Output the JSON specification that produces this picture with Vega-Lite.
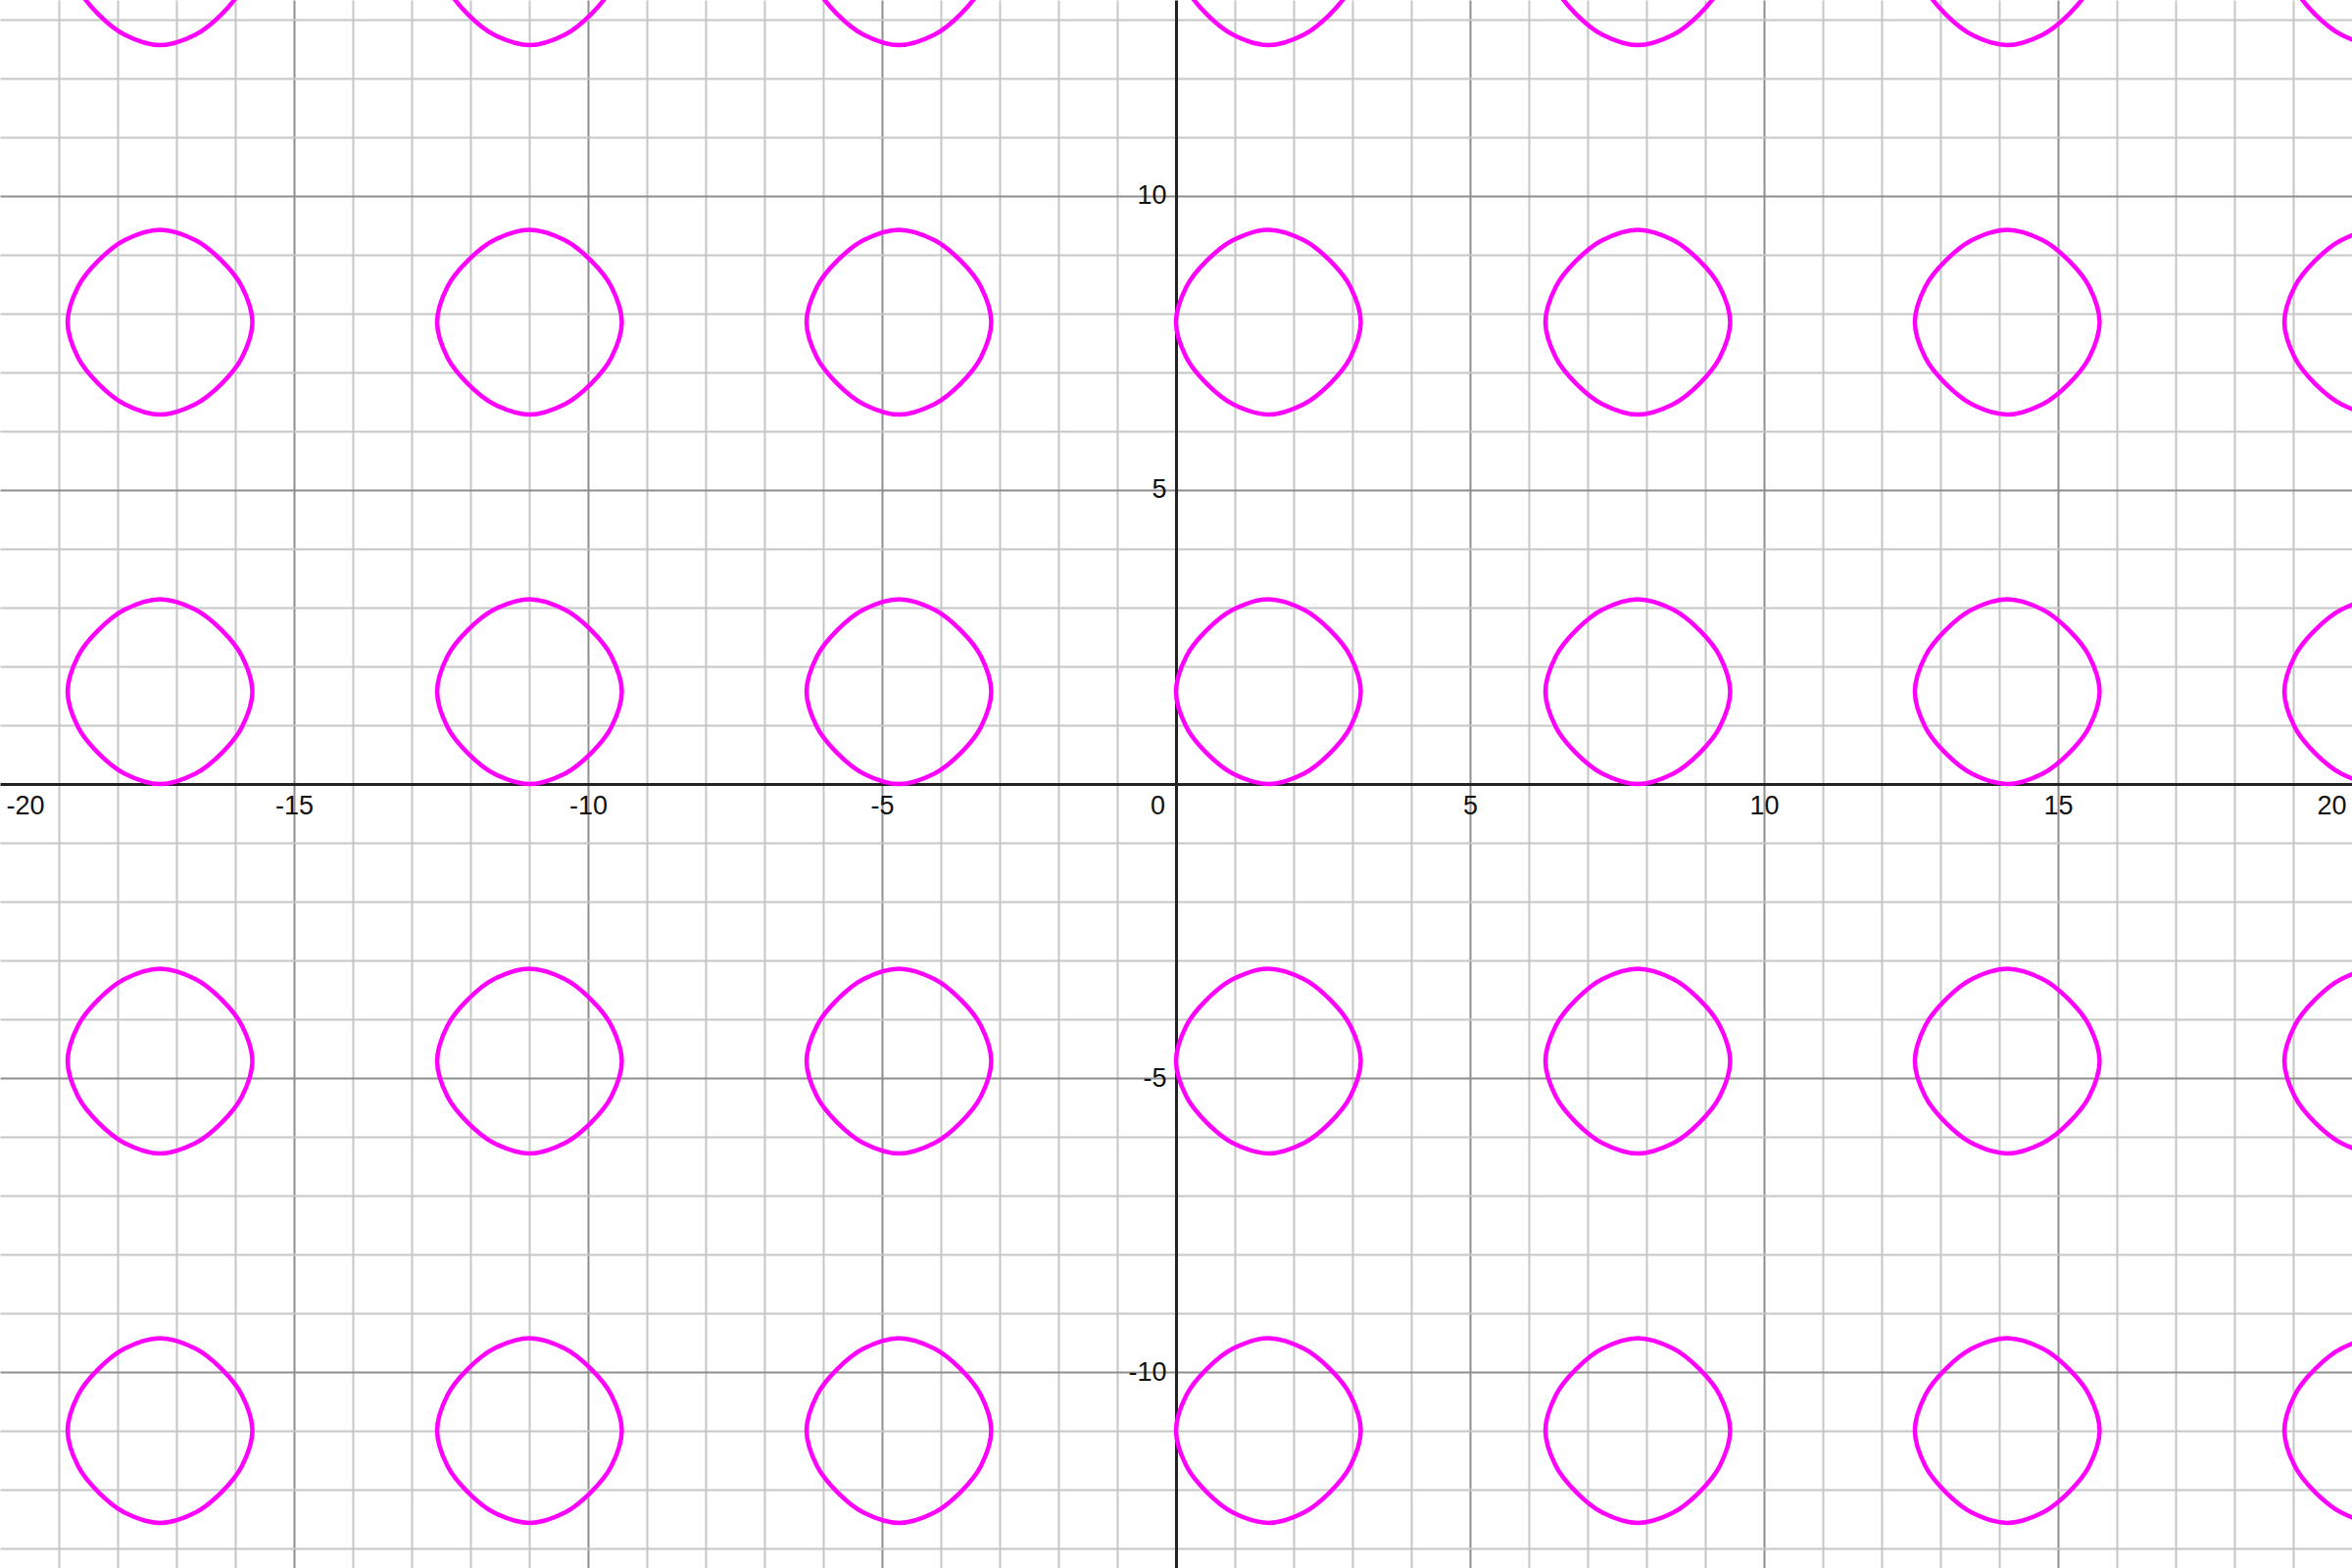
{
"$schema": "https://vega.github.io/schema/vega-lite/v6.json",
"width": 2400, "height": 1600, "autosize": "none", "padding": 0, "background": "white",
"config": {"view": {"stroke": null}},
"data": {"values": [
{"g":0,"i":0,"x":-18.85,"y":14.137},{"g":0,"i":1,"x":-18.674,"y":14.737},{"g":0,"i":2,"x":-18.326,"y":15.184},{"g":0,"i":3,"x":-17.879,"y":15.532},{"g":0,"i":4,"x":-17.279,"y":15.708},{"g":0,"i":5,"x":-16.679,"y":15.532},{"g":0,"i":6,"x":-16.232,"y":15.184},{"g":0,"i":7,"x":-15.884,"y":14.737},{"g":0,"i":8,"x":-15.708,"y":14.137},{"g":0,"i":9,"x":-15.884,"y":13.537},{"g":0,"i":10,"x":-16.232,"y":13.09},{"g":0,"i":11,"x":-16.679,"y":12.742},{"g":0,"i":12,"x":-17.279,"y":12.566},{"g":0,"i":13,"x":-17.879,"y":12.742},{"g":0,"i":14,"x":-18.326,"y":13.09},{"g":0,"i":15,"x":-18.674,"y":13.537},
{"g":1,"i":0,"x":-12.566,"y":14.137},{"g":1,"i":1,"x":-12.391,"y":14.737},{"g":1,"i":2,"x":-12.043,"y":15.184},{"g":1,"i":3,"x":-11.596,"y":15.532},{"g":1,"i":4,"x":-10.996,"y":15.708},{"g":1,"i":5,"x":-10.396,"y":15.532},{"g":1,"i":6,"x":-9.949,"y":15.184},{"g":1,"i":7,"x":-9.601,"y":14.737},{"g":1,"i":8,"x":-9.425,"y":14.137},{"g":1,"i":9,"x":-9.601,"y":13.537},{"g":1,"i":10,"x":-9.949,"y":13.09},{"g":1,"i":11,"x":-10.396,"y":12.742},{"g":1,"i":12,"x":-10.996,"y":12.566},{"g":1,"i":13,"x":-11.596,"y":12.742},{"g":1,"i":14,"x":-12.043,"y":13.09},{"g":1,"i":15,"x":-12.391,"y":13.537},
{"g":2,"i":0,"x":-6.283,"y":14.137},{"g":2,"i":1,"x":-6.107,"y":14.737},{"g":2,"i":2,"x":-5.759,"y":15.184},{"g":2,"i":3,"x":-5.312,"y":15.532},{"g":2,"i":4,"x":-4.712,"y":15.708},{"g":2,"i":5,"x":-4.112,"y":15.532},{"g":2,"i":6,"x":-3.665,"y":15.184},{"g":2,"i":7,"x":-3.317,"y":14.737},{"g":2,"i":8,"x":-3.142,"y":14.137},{"g":2,"i":9,"x":-3.317,"y":13.537},{"g":2,"i":10,"x":-3.665,"y":13.09},{"g":2,"i":11,"x":-4.112,"y":12.742},{"g":2,"i":12,"x":-4.712,"y":12.566},{"g":2,"i":13,"x":-5.312,"y":12.742},{"g":2,"i":14,"x":-5.759,"y":13.09},{"g":2,"i":15,"x":-6.107,"y":13.537},
{"g":3,"i":0,"x":0,"y":14.137},{"g":3,"i":1,"x":0.176,"y":14.737},{"g":3,"i":2,"x":0.524,"y":15.184},{"g":3,"i":3,"x":0.971,"y":15.532},{"g":3,"i":4,"x":1.571,"y":15.708},{"g":3,"i":5,"x":2.171,"y":15.532},{"g":3,"i":6,"x":2.618,"y":15.184},{"g":3,"i":7,"x":2.966,"y":14.737},{"g":3,"i":8,"x":3.142,"y":14.137},{"g":3,"i":9,"x":2.966,"y":13.537},{"g":3,"i":10,"x":2.618,"y":13.09},{"g":3,"i":11,"x":2.171,"y":12.742},{"g":3,"i":12,"x":1.571,"y":12.566},{"g":3,"i":13,"x":0.971,"y":12.742},{"g":3,"i":14,"x":0.524,"y":13.09},{"g":3,"i":15,"x":0.176,"y":13.537},
{"g":4,"i":0,"x":6.283,"y":14.137},{"g":4,"i":1,"x":6.459,"y":14.737},{"g":4,"i":2,"x":6.807,"y":15.184},{"g":4,"i":3,"x":7.254,"y":15.532},{"g":4,"i":4,"x":7.854,"y":15.708},{"g":4,"i":5,"x":8.454,"y":15.532},{"g":4,"i":6,"x":8.901,"y":15.184},{"g":4,"i":7,"x":9.249,"y":14.737},{"g":4,"i":8,"x":9.425,"y":14.137},{"g":4,"i":9,"x":9.249,"y":13.537},{"g":4,"i":10,"x":8.901,"y":13.09},{"g":4,"i":11,"x":8.454,"y":12.742},{"g":4,"i":12,"x":7.854,"y":12.566},{"g":4,"i":13,"x":7.254,"y":12.742},{"g":4,"i":14,"x":6.807,"y":13.09},{"g":4,"i":15,"x":6.459,"y":13.537},
{"g":5,"i":0,"x":12.566,"y":14.137},{"g":5,"i":1,"x":12.742,"y":14.737},{"g":5,"i":2,"x":13.09,"y":15.184},{"g":5,"i":3,"x":13.537,"y":15.532},{"g":5,"i":4,"x":14.137,"y":15.708},{"g":5,"i":5,"x":14.737,"y":15.532},{"g":5,"i":6,"x":15.184,"y":15.184},{"g":5,"i":7,"x":15.532,"y":14.737},{"g":5,"i":8,"x":15.708,"y":14.137},{"g":5,"i":9,"x":15.532,"y":13.537},{"g":5,"i":10,"x":15.184,"y":13.09},{"g":5,"i":11,"x":14.737,"y":12.742},{"g":5,"i":12,"x":14.137,"y":12.566},{"g":5,"i":13,"x":13.537,"y":12.742},{"g":5,"i":14,"x":13.09,"y":13.09},{"g":5,"i":15,"x":12.742,"y":13.537},
{"g":6,"i":0,"x":18.85,"y":14.137},{"g":6,"i":1,"x":19.025,"y":14.737},{"g":6,"i":2,"x":19.373,"y":15.184},{"g":6,"i":3,"x":19.82,"y":15.532},{"g":6,"i":4,"x":20.42,"y":15.708},{"g":6,"i":5,"x":21.02,"y":15.532},{"g":6,"i":6,"x":21.467,"y":15.184},{"g":6,"i":7,"x":21.815,"y":14.737},{"g":6,"i":8,"x":21.991,"y":14.137},{"g":6,"i":9,"x":21.815,"y":13.537},{"g":6,"i":10,"x":21.467,"y":13.09},{"g":6,"i":11,"x":21.02,"y":12.742},{"g":6,"i":12,"x":20.42,"y":12.566},{"g":6,"i":13,"x":19.82,"y":12.742},{"g":6,"i":14,"x":19.373,"y":13.09},{"g":6,"i":15,"x":19.025,"y":13.537},

{"g":7,"i":0,"x":-18.85,"y":7.854},{"g":7,"i":1,"x":-18.674,"y":8.454},{"g":7,"i":2,"x":-18.326,"y":8.901},{"g":7,"i":3,"x":-17.879,"y":9.249},{"g":7,"i":4,"x":-17.279,"y":9.425},{"g":7,"i":5,"x":-16.679,"y":9.249},{"g":7,"i":6,"x":-16.232,"y":8.901},{"g":7,"i":7,"x":-15.884,"y":8.454},{"g":7,"i":8,"x":-15.708,"y":7.854},{"g":7,"i":9,"x":-15.884,"y":7.254},{"g":7,"i":10,"x":-16.232,"y":6.807},{"g":7,"i":11,"x":-16.679,"y":6.459},{"g":7,"i":12,"x":-17.279,"y":6.283},{"g":7,"i":13,"x":-17.879,"y":6.459},{"g":7,"i":14,"x":-18.326,"y":6.807},{"g":7,"i":15,"x":-18.674,"y":7.254},
{"g":8,"i":0,"x":-12.566,"y":7.854},{"g":8,"i":1,"x":-12.391,"y":8.454},{"g":8,"i":2,"x":-12.043,"y":8.901},{"g":8,"i":3,"x":-11.596,"y":9.249},{"g":8,"i":4,"x":-10.996,"y":9.425},{"g":8,"i":5,"x":-10.396,"y":9.249},{"g":8,"i":6,"x":-9.949,"y":8.901},{"g":8,"i":7,"x":-9.601,"y":8.454},{"g":8,"i":8,"x":-9.425,"y":7.854},{"g":8,"i":9,"x":-9.601,"y":7.254},{"g":8,"i":10,"x":-9.949,"y":6.807},{"g":8,"i":11,"x":-10.396,"y":6.459},{"g":8,"i":12,"x":-10.996,"y":6.283},{"g":8,"i":13,"x":-11.596,"y":6.459},{"g":8,"i":14,"x":-12.043,"y":6.807},{"g":8,"i":15,"x":-12.391,"y":7.254},
{"g":9,"i":0,"x":-6.283,"y":7.854},{"g":9,"i":1,"x":-6.107,"y":8.454},{"g":9,"i":2,"x":-5.759,"y":8.901},{"g":9,"i":3,"x":-5.312,"y":9.249},{"g":9,"i":4,"x":-4.712,"y":9.425},{"g":9,"i":5,"x":-4.112,"y":9.249},{"g":9,"i":6,"x":-3.665,"y":8.901},{"g":9,"i":7,"x":-3.317,"y":8.454},{"g":9,"i":8,"x":-3.142,"y":7.854},{"g":9,"i":9,"x":-3.317,"y":7.254},{"g":9,"i":10,"x":-3.665,"y":6.807},{"g":9,"i":11,"x":-4.112,"y":6.459},{"g":9,"i":12,"x":-4.712,"y":6.283},{"g":9,"i":13,"x":-5.312,"y":6.459},{"g":9,"i":14,"x":-5.759,"y":6.807},{"g":9,"i":15,"x":-6.107,"y":7.254},
{"g":10,"i":0,"x":0,"y":7.854},{"g":10,"i":1,"x":0.176,"y":8.454},{"g":10,"i":2,"x":0.524,"y":8.901},{"g":10,"i":3,"x":0.971,"y":9.249},{"g":10,"i":4,"x":1.571,"y":9.425},{"g":10,"i":5,"x":2.171,"y":9.249},{"g":10,"i":6,"x":2.618,"y":8.901},{"g":10,"i":7,"x":2.966,"y":8.454},{"g":10,"i":8,"x":3.142,"y":7.854},{"g":10,"i":9,"x":2.966,"y":7.254},{"g":10,"i":10,"x":2.618,"y":6.807},{"g":10,"i":11,"x":2.171,"y":6.459},{"g":10,"i":12,"x":1.571,"y":6.283},{"g":10,"i":13,"x":0.971,"y":6.459},{"g":10,"i":14,"x":0.524,"y":6.807},{"g":10,"i":15,"x":0.176,"y":7.254},
{"g":11,"i":0,"x":6.283,"y":7.854},{"g":11,"i":1,"x":6.459,"y":8.454},{"g":11,"i":2,"x":6.807,"y":8.901},{"g":11,"i":3,"x":7.254,"y":9.249},{"g":11,"i":4,"x":7.854,"y":9.425},{"g":11,"i":5,"x":8.454,"y":9.249},{"g":11,"i":6,"x":8.901,"y":8.901},{"g":11,"i":7,"x":9.249,"y":8.454},{"g":11,"i":8,"x":9.425,"y":7.854},{"g":11,"i":9,"x":9.249,"y":7.254},{"g":11,"i":10,"x":8.901,"y":6.807},{"g":11,"i":11,"x":8.454,"y":6.459},{"g":11,"i":12,"x":7.854,"y":6.283},{"g":11,"i":13,"x":7.254,"y":6.459},{"g":11,"i":14,"x":6.807,"y":6.807},{"g":11,"i":15,"x":6.459,"y":7.254},
{"g":12,"i":0,"x":12.566,"y":7.854},{"g":12,"i":1,"x":12.742,"y":8.454},{"g":12,"i":2,"x":13.09,"y":8.901},{"g":12,"i":3,"x":13.537,"y":9.249},{"g":12,"i":4,"x":14.137,"y":9.425},{"g":12,"i":5,"x":14.737,"y":9.249},{"g":12,"i":6,"x":15.184,"y":8.901},{"g":12,"i":7,"x":15.532,"y":8.454},{"g":12,"i":8,"x":15.708,"y":7.854},{"g":12,"i":9,"x":15.532,"y":7.254},{"g":12,"i":10,"x":15.184,"y":6.807},{"g":12,"i":11,"x":14.737,"y":6.459},{"g":12,"i":12,"x":14.137,"y":6.283},{"g":12,"i":13,"x":13.537,"y":6.459},{"g":12,"i":14,"x":13.09,"y":6.807},{"g":12,"i":15,"x":12.742,"y":7.254},
{"g":13,"i":0,"x":18.85,"y":7.854},{"g":13,"i":1,"x":19.025,"y":8.454},{"g":13,"i":2,"x":19.373,"y":8.901},{"g":13,"i":3,"x":19.82,"y":9.249},{"g":13,"i":4,"x":20.42,"y":9.425},{"g":13,"i":5,"x":21.02,"y":9.249},{"g":13,"i":6,"x":21.467,"y":8.901},{"g":13,"i":7,"x":21.815,"y":8.454},{"g":13,"i":8,"x":21.991,"y":7.854},{"g":13,"i":9,"x":21.815,"y":7.254},{"g":13,"i":10,"x":21.467,"y":6.807},{"g":13,"i":11,"x":21.02,"y":6.459},{"g":13,"i":12,"x":20.42,"y":6.283},{"g":13,"i":13,"x":19.82,"y":6.459},{"g":13,"i":14,"x":19.373,"y":6.807},{"g":13,"i":15,"x":19.025,"y":7.254},

{"g":14,"i":0,"x":-18.85,"y":1.571},{"g":14,"i":1,"x":-18.674,"y":2.171},{"g":14,"i":2,"x":-18.326,"y":2.618},{"g":14,"i":3,"x":-17.879,"y":2.966},{"g":14,"i":4,"x":-17.279,"y":3.142},{"g":14,"i":5,"x":-16.679,"y":2.966},{"g":14,"i":6,"x":-16.232,"y":2.618},{"g":14,"i":7,"x":-15.884,"y":2.171},{"g":14,"i":8,"x":-15.708,"y":1.571},{"g":14,"i":9,"x":-15.884,"y":0.971},{"g":14,"i":10,"x":-16.232,"y":0.524},{"g":14,"i":11,"x":-16.679,"y":0.176},{"g":14,"i":12,"x":-17.279,"y":0},{"g":14,"i":13,"x":-17.879,"y":0.176},{"g":14,"i":14,"x":-18.326,"y":0.524},{"g":14,"i":15,"x":-18.674,"y":0.971},
{"g":15,"i":0,"x":-12.566,"y":1.571},{"g":15,"i":1,"x":-12.391,"y":2.171},{"g":15,"i":2,"x":-12.043,"y":2.618},{"g":15,"i":3,"x":-11.596,"y":2.966},{"g":15,"i":4,"x":-10.996,"y":3.142},{"g":15,"i":5,"x":-10.396,"y":2.966},{"g":15,"i":6,"x":-9.949,"y":2.618},{"g":15,"i":7,"x":-9.601,"y":2.171},{"g":15,"i":8,"x":-9.425,"y":1.571},{"g":15,"i":9,"x":-9.601,"y":0.971},{"g":15,"i":10,"x":-9.949,"y":0.524},{"g":15,"i":11,"x":-10.396,"y":0.176},{"g":15,"i":12,"x":-10.996,"y":0},{"g":15,"i":13,"x":-11.596,"y":0.176},{"g":15,"i":14,"x":-12.043,"y":0.524},{"g":15,"i":15,"x":-12.391,"y":0.971},
{"g":16,"i":0,"x":-6.283,"y":1.571},{"g":16,"i":1,"x":-6.107,"y":2.171},{"g":16,"i":2,"x":-5.759,"y":2.618},{"g":16,"i":3,"x":-5.312,"y":2.966},{"g":16,"i":4,"x":-4.712,"y":3.142},{"g":16,"i":5,"x":-4.112,"y":2.966},{"g":16,"i":6,"x":-3.665,"y":2.618},{"g":16,"i":7,"x":-3.317,"y":2.171},{"g":16,"i":8,"x":-3.142,"y":1.571},{"g":16,"i":9,"x":-3.317,"y":0.971},{"g":16,"i":10,"x":-3.665,"y":0.524},{"g":16,"i":11,"x":-4.112,"y":0.176},{"g":16,"i":12,"x":-4.712,"y":0},{"g":16,"i":13,"x":-5.312,"y":0.176},{"g":16,"i":14,"x":-5.759,"y":0.524},{"g":16,"i":15,"x":-6.107,"y":0.971},
{"g":17,"i":0,"x":0,"y":1.571},{"g":17,"i":1,"x":0.176,"y":2.171},{"g":17,"i":2,"x":0.524,"y":2.618},{"g":17,"i":3,"x":0.971,"y":2.966},{"g":17,"i":4,"x":1.571,"y":3.142},{"g":17,"i":5,"x":2.171,"y":2.966},{"g":17,"i":6,"x":2.618,"y":2.618},{"g":17,"i":7,"x":2.966,"y":2.171},{"g":17,"i":8,"x":3.142,"y":1.571},{"g":17,"i":9,"x":2.966,"y":0.971},{"g":17,"i":10,"x":2.618,"y":0.524},{"g":17,"i":11,"x":2.171,"y":0.176},{"g":17,"i":12,"x":1.571,"y":0},{"g":17,"i":13,"x":0.971,"y":0.176},{"g":17,"i":14,"x":0.524,"y":0.524},{"g":17,"i":15,"x":0.176,"y":0.971},
{"g":18,"i":0,"x":6.283,"y":1.571},{"g":18,"i":1,"x":6.459,"y":2.171},{"g":18,"i":2,"x":6.807,"y":2.618},{"g":18,"i":3,"x":7.254,"y":2.966},{"g":18,"i":4,"x":7.854,"y":3.142},{"g":18,"i":5,"x":8.454,"y":2.966},{"g":18,"i":6,"x":8.901,"y":2.618},{"g":18,"i":7,"x":9.249,"y":2.171},{"g":18,"i":8,"x":9.425,"y":1.571},{"g":18,"i":9,"x":9.249,"y":0.971},{"g":18,"i":10,"x":8.901,"y":0.524},{"g":18,"i":11,"x":8.454,"y":0.176},{"g":18,"i":12,"x":7.854,"y":0},{"g":18,"i":13,"x":7.254,"y":0.176},{"g":18,"i":14,"x":6.807,"y":0.524},{"g":18,"i":15,"x":6.459,"y":0.971},
{"g":19,"i":0,"x":12.566,"y":1.571},{"g":19,"i":1,"x":12.742,"y":2.171},{"g":19,"i":2,"x":13.09,"y":2.618},{"g":19,"i":3,"x":13.537,"y":2.966},{"g":19,"i":4,"x":14.137,"y":3.142},{"g":19,"i":5,"x":14.737,"y":2.966},{"g":19,"i":6,"x":15.184,"y":2.618},{"g":19,"i":7,"x":15.532,"y":2.171},{"g":19,"i":8,"x":15.708,"y":1.571},{"g":19,"i":9,"x":15.532,"y":0.971},{"g":19,"i":10,"x":15.184,"y":0.524},{"g":19,"i":11,"x":14.737,"y":0.176},{"g":19,"i":12,"x":14.137,"y":0},{"g":19,"i":13,"x":13.537,"y":0.176},{"g":19,"i":14,"x":13.09,"y":0.524},{"g":19,"i":15,"x":12.742,"y":0.971},
{"g":20,"i":0,"x":18.85,"y":1.571},{"g":20,"i":1,"x":19.025,"y":2.171},{"g":20,"i":2,"x":19.373,"y":2.618},{"g":20,"i":3,"x":19.82,"y":2.966},{"g":20,"i":4,"x":20.42,"y":3.142},{"g":20,"i":5,"x":21.02,"y":2.966},{"g":20,"i":6,"x":21.467,"y":2.618},{"g":20,"i":7,"x":21.815,"y":2.171},{"g":20,"i":8,"x":21.991,"y":1.571},{"g":20,"i":9,"x":21.815,"y":0.971},{"g":20,"i":10,"x":21.467,"y":0.524},{"g":20,"i":11,"x":21.02,"y":0.176},{"g":20,"i":12,"x":20.42,"y":0},{"g":20,"i":13,"x":19.82,"y":0.176},{"g":20,"i":14,"x":19.373,"y":0.524},{"g":20,"i":15,"x":19.025,"y":0.971},

{"g":21,"i":0,"x":-18.85,"y":-4.712},{"g":21,"i":1,"x":-18.674,"y":-4.112},{"g":21,"i":2,"x":-18.326,"y":-3.665},{"g":21,"i":3,"x":-17.879,"y":-3.317},{"g":21,"i":4,"x":-17.279,"y":-3.142},{"g":21,"i":5,"x":-16.679,"y":-3.317},{"g":21,"i":6,"x":-16.232,"y":-3.665},{"g":21,"i":7,"x":-15.884,"y":-4.112},{"g":21,"i":8,"x":-15.708,"y":-4.712},{"g":21,"i":9,"x":-15.884,"y":-5.312},{"g":21,"i":10,"x":-16.232,"y":-5.759},{"g":21,"i":11,"x":-16.679,"y":-6.107},{"g":21,"i":12,"x":-17.279,"y":-6.283},{"g":21,"i":13,"x":-17.879,"y":-6.107},{"g":21,"i":14,"x":-18.326,"y":-5.759},{"g":21,"i":15,"x":-18.674,"y":-5.312},
{"g":22,"i":0,"x":-12.566,"y":-4.712},{"g":22,"i":1,"x":-12.391,"y":-4.112},{"g":22,"i":2,"x":-12.043,"y":-3.665},{"g":22,"i":3,"x":-11.596,"y":-3.317},{"g":22,"i":4,"x":-10.996,"y":-3.142},{"g":22,"i":5,"x":-10.396,"y":-3.317},{"g":22,"i":6,"x":-9.949,"y":-3.665},{"g":22,"i":7,"x":-9.601,"y":-4.112},{"g":22,"i":8,"x":-9.425,"y":-4.712},{"g":22,"i":9,"x":-9.601,"y":-5.312},{"g":22,"i":10,"x":-9.949,"y":-5.759},{"g":22,"i":11,"x":-10.396,"y":-6.107},{"g":22,"i":12,"x":-10.996,"y":-6.283},{"g":22,"i":13,"x":-11.596,"y":-6.107},{"g":22,"i":14,"x":-12.043,"y":-5.759},{"g":22,"i":15,"x":-12.391,"y":-5.312},
{"g":23,"i":0,"x":-6.283,"y":-4.712},{"g":23,"i":1,"x":-6.107,"y":-4.112},{"g":23,"i":2,"x":-5.759,"y":-3.665},{"g":23,"i":3,"x":-5.312,"y":-3.317},{"g":23,"i":4,"x":-4.712,"y":-3.142},{"g":23,"i":5,"x":-4.112,"y":-3.317},{"g":23,"i":6,"x":-3.665,"y":-3.665},{"g":23,"i":7,"x":-3.317,"y":-4.112},{"g":23,"i":8,"x":-3.142,"y":-4.712},{"g":23,"i":9,"x":-3.317,"y":-5.312},{"g":23,"i":10,"x":-3.665,"y":-5.759},{"g":23,"i":11,"x":-4.112,"y":-6.107},{"g":23,"i":12,"x":-4.712,"y":-6.283},{"g":23,"i":13,"x":-5.312,"y":-6.107},{"g":23,"i":14,"x":-5.759,"y":-5.759},{"g":23,"i":15,"x":-6.107,"y":-5.312},
{"g":24,"i":0,"x":0,"y":-4.712},{"g":24,"i":1,"x":0.176,"y":-4.112},{"g":24,"i":2,"x":0.524,"y":-3.665},{"g":24,"i":3,"x":0.971,"y":-3.317},{"g":24,"i":4,"x":1.571,"y":-3.142},{"g":24,"i":5,"x":2.171,"y":-3.317},{"g":24,"i":6,"x":2.618,"y":-3.665},{"g":24,"i":7,"x":2.966,"y":-4.112},{"g":24,"i":8,"x":3.142,"y":-4.712},{"g":24,"i":9,"x":2.966,"y":-5.312},{"g":24,"i":10,"x":2.618,"y":-5.759},{"g":24,"i":11,"x":2.171,"y":-6.107},{"g":24,"i":12,"x":1.571,"y":-6.283},{"g":24,"i":13,"x":0.971,"y":-6.107},{"g":24,"i":14,"x":0.524,"y":-5.759},{"g":24,"i":15,"x":0.176,"y":-5.312},
{"g":25,"i":0,"x":6.283,"y":-4.712},{"g":25,"i":1,"x":6.459,"y":-4.112},{"g":25,"i":2,"x":6.807,"y":-3.665},{"g":25,"i":3,"x":7.254,"y":-3.317},{"g":25,"i":4,"x":7.854,"y":-3.142},{"g":25,"i":5,"x":8.454,"y":-3.317},{"g":25,"i":6,"x":8.901,"y":-3.665},{"g":25,"i":7,"x":9.249,"y":-4.112},{"g":25,"i":8,"x":9.425,"y":-4.712},{"g":25,"i":9,"x":9.249,"y":-5.312},{"g":25,"i":10,"x":8.901,"y":-5.759},{"g":25,"i":11,"x":8.454,"y":-6.107},{"g":25,"i":12,"x":7.854,"y":-6.283},{"g":25,"i":13,"x":7.254,"y":-6.107},{"g":25,"i":14,"x":6.807,"y":-5.759},{"g":25,"i":15,"x":6.459,"y":-5.312},
{"g":26,"i":0,"x":12.566,"y":-4.712},{"g":26,"i":1,"x":12.742,"y":-4.112},{"g":26,"i":2,"x":13.09,"y":-3.665},{"g":26,"i":3,"x":13.537,"y":-3.317},{"g":26,"i":4,"x":14.137,"y":-3.142},{"g":26,"i":5,"x":14.737,"y":-3.317},{"g":26,"i":6,"x":15.184,"y":-3.665},{"g":26,"i":7,"x":15.532,"y":-4.112},{"g":26,"i":8,"x":15.708,"y":-4.712},{"g":26,"i":9,"x":15.532,"y":-5.312},{"g":26,"i":10,"x":15.184,"y":-5.759},{"g":26,"i":11,"x":14.737,"y":-6.107},{"g":26,"i":12,"x":14.137,"y":-6.283},{"g":26,"i":13,"x":13.537,"y":-6.107},{"g":26,"i":14,"x":13.09,"y":-5.759},{"g":26,"i":15,"x":12.742,"y":-5.312},
{"g":27,"i":0,"x":18.85,"y":-4.712},{"g":27,"i":1,"x":19.025,"y":-4.112},{"g":27,"i":2,"x":19.373,"y":-3.665},{"g":27,"i":3,"x":19.82,"y":-3.317},{"g":27,"i":4,"x":20.42,"y":-3.142},{"g":27,"i":5,"x":21.02,"y":-3.317},{"g":27,"i":6,"x":21.467,"y":-3.665},{"g":27,"i":7,"x":21.815,"y":-4.112},{"g":27,"i":8,"x":21.991,"y":-4.712},{"g":27,"i":9,"x":21.815,"y":-5.312},{"g":27,"i":10,"x":21.467,"y":-5.759},{"g":27,"i":11,"x":21.02,"y":-6.107},{"g":27,"i":12,"x":20.42,"y":-6.283},{"g":27,"i":13,"x":19.82,"y":-6.107},{"g":27,"i":14,"x":19.373,"y":-5.759},{"g":27,"i":15,"x":19.025,"y":-5.312},

{"g":28,"i":0,"x":-18.85,"y":-10.996},{"g":28,"i":1,"x":-18.674,"y":-10.396},{"g":28,"i":2,"x":-18.326,"y":-9.949},{"g":28,"i":3,"x":-17.879,"y":-9.601},{"g":28,"i":4,"x":-17.279,"y":-9.425},{"g":28,"i":5,"x":-16.679,"y":-9.601},{"g":28,"i":6,"x":-16.232,"y":-9.949},{"g":28,"i":7,"x":-15.884,"y":-10.396},{"g":28,"i":8,"x":-15.708,"y":-10.996},{"g":28,"i":9,"x":-15.884,"y":-11.596},{"g":28,"i":10,"x":-16.232,"y":-12.043},{"g":28,"i":11,"x":-16.679,"y":-12.391},{"g":28,"i":12,"x":-17.279,"y":-12.566},{"g":28,"i":13,"x":-17.879,"y":-12.391},{"g":28,"i":14,"x":-18.326,"y":-12.043},{"g":28,"i":15,"x":-18.674,"y":-11.596},
{"g":29,"i":0,"x":-12.566,"y":-10.996},{"g":29,"i":1,"x":-12.391,"y":-10.396},{"g":29,"i":2,"x":-12.043,"y":-9.949},{"g":29,"i":3,"x":-11.596,"y":-9.601},{"g":29,"i":4,"x":-10.996,"y":-9.425},{"g":29,"i":5,"x":-10.396,"y":-9.601},{"g":29,"i":6,"x":-9.949,"y":-9.949},{"g":29,"i":7,"x":-9.601,"y":-10.396},{"g":29,"i":8,"x":-9.425,"y":-10.996},{"g":29,"i":9,"x":-9.601,"y":-11.596},{"g":29,"i":10,"x":-9.949,"y":-12.043},{"g":29,"i":11,"x":-10.396,"y":-12.391},{"g":29,"i":12,"x":-10.996,"y":-12.566},{"g":29,"i":13,"x":-11.596,"y":-12.391},{"g":29,"i":14,"x":-12.043,"y":-12.043},{"g":29,"i":15,"x":-12.391,"y":-11.596},
{"g":30,"i":0,"x":-6.283,"y":-10.996},{"g":30,"i":1,"x":-6.107,"y":-10.396},{"g":30,"i":2,"x":-5.759,"y":-9.949},{"g":30,"i":3,"x":-5.312,"y":-9.601},{"g":30,"i":4,"x":-4.712,"y":-9.425},{"g":30,"i":5,"x":-4.112,"y":-9.601},{"g":30,"i":6,"x":-3.665,"y":-9.949},{"g":30,"i":7,"x":-3.317,"y":-10.396},{"g":30,"i":8,"x":-3.142,"y":-10.996},{"g":30,"i":9,"x":-3.317,"y":-11.596},{"g":30,"i":10,"x":-3.665,"y":-12.043},{"g":30,"i":11,"x":-4.112,"y":-12.391},{"g":30,"i":12,"x":-4.712,"y":-12.566},{"g":30,"i":13,"x":-5.312,"y":-12.391},{"g":30,"i":14,"x":-5.759,"y":-12.043},{"g":30,"i":15,"x":-6.107,"y":-11.596},
{"g":31,"i":0,"x":0,"y":-10.996},{"g":31,"i":1,"x":0.176,"y":-10.396},{"g":31,"i":2,"x":0.524,"y":-9.949},{"g":31,"i":3,"x":0.971,"y":-9.601},{"g":31,"i":4,"x":1.571,"y":-9.425},{"g":31,"i":5,"x":2.171,"y":-9.601},{"g":31,"i":6,"x":2.618,"y":-9.949},{"g":31,"i":7,"x":2.966,"y":-10.396},{"g":31,"i":8,"x":3.142,"y":-10.996},{"g":31,"i":9,"x":2.966,"y":-11.596},{"g":31,"i":10,"x":2.618,"y":-12.043},{"g":31,"i":11,"x":2.171,"y":-12.391},{"g":31,"i":12,"x":1.571,"y":-12.566},{"g":31,"i":13,"x":0.971,"y":-12.391},{"g":31,"i":14,"x":0.524,"y":-12.043},{"g":31,"i":15,"x":0.176,"y":-11.596},
{"g":32,"i":0,"x":6.283,"y":-10.996},{"g":32,"i":1,"x":6.459,"y":-10.396},{"g":32,"i":2,"x":6.807,"y":-9.949},{"g":32,"i":3,"x":7.254,"y":-9.601},{"g":32,"i":4,"x":7.854,"y":-9.425},{"g":32,"i":5,"x":8.454,"y":-9.601},{"g":32,"i":6,"x":8.901,"y":-9.949},{"g":32,"i":7,"x":9.249,"y":-10.396},{"g":32,"i":8,"x":9.425,"y":-10.996},{"g":32,"i":9,"x":9.249,"y":-11.596},{"g":32,"i":10,"x":8.901,"y":-12.043},{"g":32,"i":11,"x":8.454,"y":-12.391},{"g":32,"i":12,"x":7.854,"y":-12.566},{"g":32,"i":13,"x":7.254,"y":-12.391},{"g":32,"i":14,"x":6.807,"y":-12.043},{"g":32,"i":15,"x":6.459,"y":-11.596},
{"g":33,"i":0,"x":12.566,"y":-10.996},{"g":33,"i":1,"x":12.742,"y":-10.396},{"g":33,"i":2,"x":13.09,"y":-9.949},{"g":33,"i":3,"x":13.537,"y":-9.601},{"g":33,"i":4,"x":14.137,"y":-9.425},{"g":33,"i":5,"x":14.737,"y":-9.601},{"g":33,"i":6,"x":15.184,"y":-9.949},{"g":33,"i":7,"x":15.532,"y":-10.396},{"g":33,"i":8,"x":15.708,"y":-10.996},{"g":33,"i":9,"x":15.532,"y":-11.596},{"g":33,"i":10,"x":15.184,"y":-12.043},{"g":33,"i":11,"x":14.737,"y":-12.391},{"g":33,"i":12,"x":14.137,"y":-12.566},{"g":33,"i":13,"x":13.537,"y":-12.391},{"g":33,"i":14,"x":13.09,"y":-12.043},{"g":33,"i":15,"x":12.742,"y":-11.596},
{"g":34,"i":0,"x":18.85,"y":-10.996},{"g":34,"i":1,"x":19.025,"y":-10.396},{"g":34,"i":2,"x":19.373,"y":-9.949},{"g":34,"i":3,"x":19.82,"y":-9.601},{"g":34,"i":4,"x":20.42,"y":-9.425},{"g":34,"i":5,"x":21.02,"y":-9.601},{"g":34,"i":6,"x":21.467,"y":-9.949},{"g":34,"i":7,"x":21.815,"y":-10.396},{"g":34,"i":8,"x":21.991,"y":-10.996},{"g":34,"i":9,"x":21.815,"y":-11.596},{"g":34,"i":10,"x":21.467,"y":-12.043},{"g":34,"i":11,"x":21.02,"y":-12.391},{"g":34,"i":12,"x":20.42,"y":-12.566},{"g":34,"i":13,"x":19.82,"y":-12.391},{"g":34,"i":14,"x":19.373,"y":-12.043},{"g":34,"i":15,"x":19.025,"y":-11.596}
]},
"layer": [
{
"mark": {"type": "line", "opacity": 0, "clip": true},
"encoding": {
"x": {"field": "x", "type": "quantitative", "scale": {"domain": [-20, 20], "nice": false, "zero": false},
 "axis": {"orient": "bottom", "values": [-19,-18,-17,-16,-14,-13,-12,-11,-9,-8,-7,-6,-4,-3,-2,-1,1,2,3,4,6,7,8,9,11,12,13,14,16,17,18,19], "grid": true, "gridColor": "#c6c6c6", "gridWidth": 2, "labels": false, "ticks": false, "domain": false, "title": null}},
"y": {"field": "y", "type": "quantitative", "scale": {"domain": [-13.3333, 13.3333], "nice": false, "zero": false},
 "axis": {"orient": "left", "values": [-13,-12,-11,-9,-8,-7,-6,-4,-3,-2,-1,1,2,3,4,6,7,8,9,11,12,13], "grid": true, "gridColor": "#c6c6c6", "gridWidth": 2, "labels": false, "ticks": false, "domain": false, "title": null}},
"detail": {"field": "g"},
"order": {"field": "i"}
}
},
{
"mark": {"type": "line", "opacity": 0, "clip": true},
"encoding": {
"x": {"field": "x", "type": "quantitative",
 "axis": {"orient": "bottom", "values": [-15,-10,-5,5,10,15], "grid": true, "gridColor": "#8e8e8e", "gridWidth": 2, "labels": false, "ticks": false, "domain": false, "title": null}},
"y": {"field": "y", "type": "quantitative",
 "axis": {"orient": "left", "values": [-10,-5,5,10], "grid": true, "gridColor": "#8e8e8e", "gridWidth": 2, "labels": false, "ticks": false, "domain": false, "title": null}},
"detail": {"field": "g"},
"order": {"field": "i"}
}
},
{
"mark": {"type": "line", "interpolate": "cardinal-closed", "color": "#ff00ff", "strokeWidth": 4.5, "clip": true},
"encoding": {
"x": {"field": "x", "type": "quantitative",
 "axis": {"orient": "bottom", "offset": -800, "values": [-20,-15,-10,-5,5,10,15,20], "labelExpr": "'' + datum.value", "grid": false, "ticks": false, "tickSize": 0, "domain": true, "domainColor": "#222222", "domainWidth": 3, "labelFont": "Liberation Sans", "labelFontSize": 27, "labelColor": "#111111", "labelPadding": 9, "labelFlush": true, "labelFlushOffset": -6, "title": null}},
"y": {"field": "y", "type": "quantitative",
 "axis": {"orient": "left", "offset": -1200, "values": [-10,-5,5,10], "labelExpr": "'' + datum.value", "grid": false, "ticks": false, "tickSize": 0, "domain": true, "domainColor": "#222222", "domainWidth": 3, "labelFont": "Liberation Sans", "labelFontSize": 27, "labelColor": "#111111", "labelPadding": 10, "title": null}},
"detail": {"field": "g"},
"order": {"field": "i"}
}
},
{
"data": {"values": [{"x": 0, "y": 0, "t": "0"}]},
"mark": {"type": "text", "align": "right", "baseline": "top", "dx": -11, "dy": 10, "font": "Liberation Sans", "fontSize": 27, "color": "#111111"},
"encoding": {
"x": {"field": "x", "type": "quantitative", "axis": null},
"y": {"field": "y", "type": "quantitative", "axis": null},
"text": {"field": "t"}
}
}
],
"resolve": {"scale": {"x": "shared", "y": "shared"}, "axis": {"x": "independent", "y": "independent"}}
}
